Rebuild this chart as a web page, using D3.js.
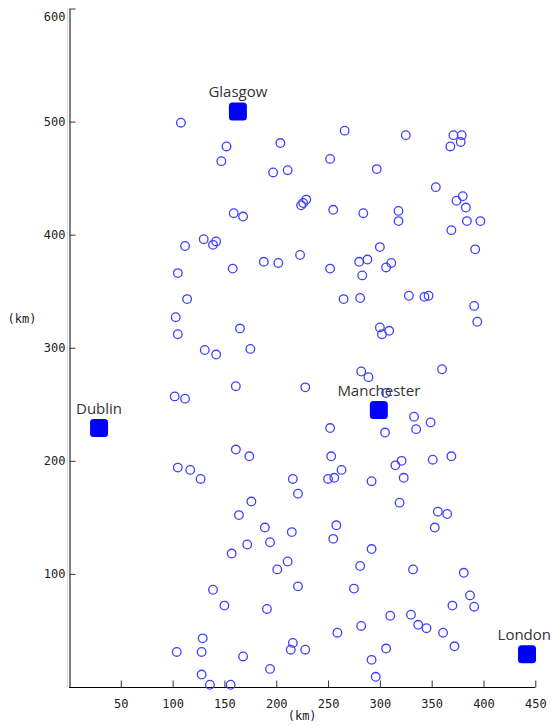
<!DOCTYPE html>
<html>
<head>
<meta charset="utf-8">
<script src="https://cdn.jsdelivr.net/npm/d3@7"></script>
<style>
  body { margin: 0; background: #fff; }
  svg { display: block; }
</style>
</head>
<body>
<svg id="chart"></svg>
<script>
// sample points (km)
const ptX = [108,152,204,266,325,371,379,378,368,147,252,197,211,297,354,380,374,383,384,397,369,224,226,229,255,284,318,318,159,168,112,130,142,139,300,392,
  188,202,223,105,158,114,103,105,165,131,142,175,161,228,102,112,161,174,105,117,127,216,
  252,280,288,311,306,283,265,281,328,343,347,391,394,300,302,309,360,282,289,306,333,349,335,252,305,253,369,351,321,315,263,250,256,292,323,
  221,176,164,189,215,194,172,157,211,201,221,139,150,191,129,104,128,168,216,214,228,128,194,136,156,
  319,356,365,258,353,255,292,281,332,381,275,387,370,391,310,330,337,345,361,282,259,306,372,292,296];
const ptY = [499,478,481,492,488,488,488,482,478,465,467,455,457,458,442,434,430,424,412,412,404,426,428,431,422,419,421,412,419,416,390,396,394,391,389,387,
  376,375,382,366,370,343,327,312,317,298,294,299,266,265,257,255,210,204,194,192,184,184,
  370,376,378,375,371,364,343,344,346,345,346,337,323,318,312,315,281,279,274,260,239,234,228,229,225,204,204,201,200,196,192,184,185,182,185,
  171,164,152,141,137,128,126,118,111,104,89,86,72,69,43,31,31,27,39,33,33,11,16,2,2,
  163,155,153,143,141,131,122,107,104,101,87,81,72,71,63,64,55,52,48,54,48,34,36,24,9];

// cities
const cityNames = ["Glasgow", "Dublin", "Manchester", "London"];
const cityX = [163, 29, 299, 442];
const cityY = [509, 229, 245, 29];

const xTicks = [50, 100, 150, 200, 250, 300, 350, 400, 450];
const yTicks = [100, 200, 300, 400, 500, 600];

const W = 553, H = 726;
const svg = d3.select("#chart").attr("width", W).attr("height", H);

const xScale = d3.scaleLinear().domain([0, 450]).range([69, 535.3]);
const yScale = d3.scaleLinear().domain([0, 600]).range([687, 8.5]);

const monoFont = "'DejaVu Sans Mono', monospace";

// faint shadow beside the y axis
svg.append("line")
  .attr("x1", xScale(0) - 1.5).attr("x2", xScale(0) - 1.5)
  .attr("y1", yScale(600)).attr("y2", yScale(0))
  .attr("stroke", "#d8d8d8").attr("stroke-width", 1);

// x axis
const xAxis = svg.append("g")
  .attr("transform", `translate(0,${yScale(0) + 0.5})`)
  .call(d3.axisBottom(xScale).tickValues(xTicks).tickSizeInner(-7).tickSizeOuter(0).tickPadding(12));
xAxis.select(".domain").attr("stroke", "#000").attr("d", `M${xScale(0)},0H${xScale(450)}`);
xAxis.selectAll(".tick line").attr("stroke", "#333");
xAxis.selectAll("text")
  .style("font-family", monoFont).style("font-size", "12px").attr("fill", "#222");

// y axis
const yAxis = svg.append("g")
  .attr("transform", `translate(${xScale(0) + 0.5},0)`)
  .call(d3.axisLeft(yScale).tickValues(yTicks).tickSizeInner(-6).tickSizeOuter(0).tickPadding(4));
yAxis.select(".domain").attr("stroke", "#000");
yAxis.selectAll(".tick line").attr("stroke", "#333");
yAxis.selectAll("text")
  .style("font-family", monoFont).style("font-size", "12px").attr("fill", "#222")
  .attr("dy", d => d === 600 ? "1.0em" : "0.32em");

// axis titles
svg.append("text")
  .attr("x", (xScale(0) + xScale(450)) / 2)
  .attr("y", 720)
  .attr("text-anchor", "middle")
  .style("font-family", monoFont).style("font-size", "12px").attr("fill", "#222")
  .text("(km)");

svg.append("text")
  .attr("x", 22)
  .attr("y", yScale(325) + 4)
  .attr("text-anchor", "middle")
  .style("font-family", monoFont).style("font-size", "12px").attr("fill", "#222")
  .text("(km)");

// sample points
const points = ptX.map((x, i) => ({ x, y: ptY[i] }));
svg.selectAll(".pt")
  .data(points)
  .enter().append("circle")
  .attr("class", "pt")
  .attr("cx", d => xScale(d.x))
  .attr("cy", d => yScale(d.y))
  .attr("r", 4.3)
  .attr("fill", "none")
  .attr("stroke", "#4040ff")
  .attr("stroke-width", 1.3);

// cities
const cities = cityNames.map((name, i) => ({ name, x: cityX[i], y: cityY[i] }));
svg.selectAll(".city")
  .data(cities)
  .enter().append("rect")
  .attr("class", "city")
  .attr("x", d => xScale(d.x) - 9)
  .attr("y", d => yScale(d.y) - 9)
  .attr("width", 18)
  .attr("height", 18)
  .attr("rx", 3.5)
  .attr("fill", "#0000ff");

svg.selectAll(".city-label")
  .data(cities)
  .enter().append("text")
  .attr("class", "city-label")
  .attr("x", d => xScale(d.x))
  .attr("y", d => yScale(d.y) - 14)
  .attr("text-anchor", "middle")
  .style("font-family", "'Open Sans', sans-serif")
  .style("font-size", "15px")
  .attr("fill", "#333")
  .text(d => d.name)
  .each(function () {
    // keep labels inside the picture
    const half = this.getComputedTextLength() / 2;
    const x = +this.getAttribute("x");
    if (x + half > W - 2) this.setAttribute("x", W - 2 - half);
  });
</script>
</body>
</html>
